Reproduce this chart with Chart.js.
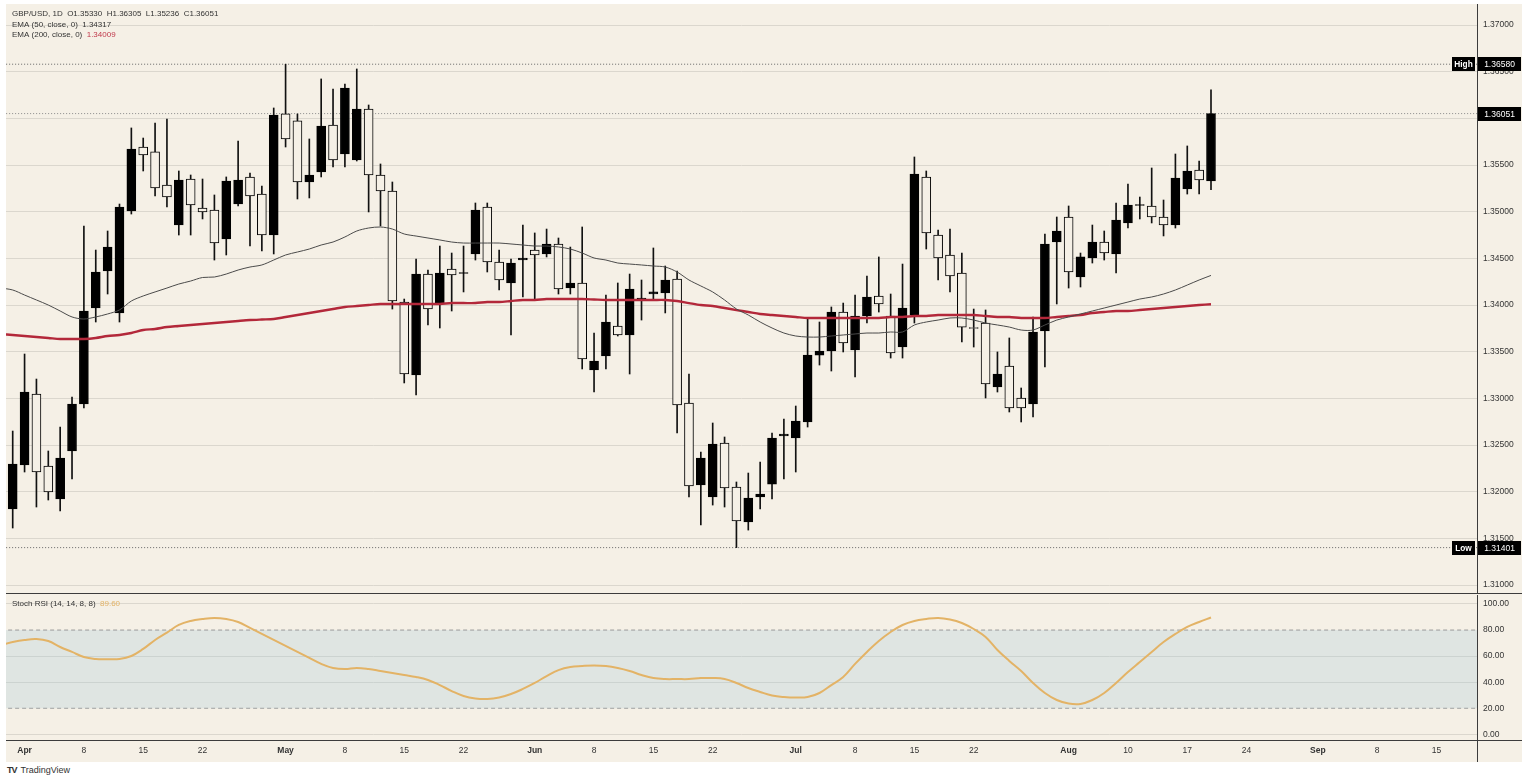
<!DOCTYPE html>
<html><head><meta charset="utf-8">
<script src="https://cdn.jsdelivr.net/npm/chart.js@4/dist/chart.umd.min.js"></script>
<style>
html,body{margin:0;padding:0;background:#ffffff;width:1528px;height:784px;overflow:hidden;}
#frame{position:absolute;left:6px;top:4px;width:1516px;height:758px;background:#f5f0e6;}
#cPrice{position:absolute;left:0;top:0;}
#cRsi{position:absolute;left:0;top:591px;}
#brand{position:absolute;left:7px;top:765px;font:9px 'Liberation Sans',Arial,sans-serif;color:#333;}
#brand b{font-weight:900;letter-spacing:-1px;margin-right:4px;}
</style></head>
<body>
<div id="frame">
  <canvas id="cPrice" width="1516" height="590"></canvas>
  <canvas id="cRsi" width="1516" height="167"></canvas>
</div>
<div id="brand"><b>TV</b>TradingView</div>
<script>
// ---------- DATA (GBP/USD daily, 31 Mar – 19 Aug) ----------
const open = [
1.31815,1.32286,1.33047,1.32275,1.31922,1.32436,1.32940,1.33968,1.34364,1.33915,
1.35007,1.35693,1.35640,1.35286,1.34857,1.35350,1.35039,1.35018,1.34707,1.35082,
1.35372,1.35189,1.34750,1.36047,1.35972,1.35318,1.35425,1.35929,1.35618,1.35554,
1.36100,1.35393,1.35222,1.34032,1.33250,1.34332,1.34011,1.34386,1.34338,1.34547,
1.35050,1.34461,1.34236,1.34482,1.34589,1.34547,1.34654,1.34182,1.34236,1.33304,
1.33454,1.33775,1.33679,1.34054,1.34118,1.34129,1.34279,1.32950,1.32072,1.31943,
1.32522,1.32050,1.31675,1.31943,1.32082,1.32597,1.32575,1.32747,1.33464,1.33507,
1.33925,1.33518,1.33882,1.34097,1.33882,1.33550,1.33893,1.35372,1.34750,1.34536,
1.34343,1.33759,1.33807,1.33122,1.33347,1.33004,1.32940,1.33722,1.34675,1.34943,
1.34300,1.34504,1.34675,1.34547,1.34879,1.35066,1.35061,1.34943,1.34857,1.35243,
1.35447,1.35330];
const high = [
1.32650,1.33475,1.33207,1.32436,1.32693,1.33015,1.34847,1.34589,1.34793,1.35082,
1.35897,1.35789,1.35950,1.35993,1.35436,1.35393,1.35350,1.35179,1.35372,1.35757,
1.35414,1.35275,1.36111,1.36580,1.36047,1.35779,1.36422,1.36314,1.36368,1.36529,
1.36143,1.35511,1.35318,1.34064,1.34493,1.34375,1.34632,1.34557,1.34632,1.35093,
1.35093,1.34589,1.34493,1.34857,1.34772,1.34814,1.34718,1.34621,1.34836,1.33700,
1.34107,1.34236,1.34332,1.34268,1.34611,1.34418,1.34364,1.33261,1.32425,1.32736,
1.32586,1.32104,1.32200,1.32318,1.32629,1.32779,1.32918,1.33850,1.33818,1.33979,
1.34021,1.34107,1.34311,1.34515,1.34118,1.34439,1.35586,1.35436,1.34804,1.34814,
1.34557,1.33957,1.33947,1.33497,1.33647,1.33111,1.33872,1.34761,1.34943,1.35061,
1.34557,1.34857,1.34793,1.35093,1.35297,1.35157,1.35468,1.35125,1.35618,1.35704,
1.35543,1.36305];
const low = [
1.31611,1.32211,1.31836,1.31911,1.31793,1.32136,1.32897,1.33818,1.34118,1.33818,
1.34975,1.35436,1.35168,1.35050,1.34750,1.34750,1.34922,1.34482,1.34536,1.35061,
1.34632,1.34579,1.34547,1.35693,1.35136,1.35147,1.35372,1.35479,1.35479,1.35543,
1.34997,1.34847,1.33957,1.33165,1.33036,1.33786,1.33754,1.33936,1.34140,1.34482,
1.34354,1.34161,1.33679,1.34086,1.34064,1.34515,1.34118,1.34118,1.33315,1.33068,
1.33315,1.33668,1.33261,1.33839,1.34064,1.33915,1.32629,1.31943,1.31643,1.31857,
1.31836,1.31401,1.31589,1.31815,1.31922,1.32136,1.32211,1.32693,1.33357,1.33293,
1.33497,1.33229,1.33807,1.33925,1.33432,1.33432,1.33807,1.34600,1.34268,1.34140,
1.33604,1.33550,1.33004,1.33068,1.32854,1.32747,1.32800,1.33336,1.34011,1.34182,
1.34193,1.34450,1.34482,1.34343,1.34825,1.34922,1.34879,1.34740,1.34825,1.35189,
1.35189,1.35236];
const close = [
1.32297,1.33068,1.32211,1.31997,1.32361,1.32940,1.33936,1.34354,1.34621,1.35050,
1.35672,1.35607,1.35254,1.35157,1.35339,1.35072,1.34997,1.34664,1.35329,1.35339,
1.35168,1.34750,1.36036,1.35779,1.35318,1.35393,1.35918,1.35554,1.36325,1.36100,
1.35393,1.35222,1.34043,1.33261,1.34332,1.33957,1.34343,1.34322,1.34348,1.35018,
1.34461,1.34268,1.34450,1.34504,1.34536,1.34654,1.34172,1.34236,1.33422,1.33400,
1.33818,1.33679,1.34172,1.34075,1.34140,1.34268,1.32929,1.32061,1.32361,1.32511,
1.32040,1.31686,1.31932,1.31975,1.32575,1.32618,1.32757,1.33464,1.33507,1.33925,
1.33593,1.33882,1.34086,1.34011,1.33486,1.33968,1.35404,1.34772,1.34504,1.34311,
1.33764,1.33748,1.33154,1.33261,1.32897,1.32897,1.33711,1.34654,1.34793,1.34354,
1.34515,1.34675,1.34557,1.34911,1.35072,1.35077,1.34943,1.34857,1.35361,1.35436,
1.35339,1.36051];
// indicator series start one bar before the first visible candle (index -1)
const ema50 = [
1.34182,1.34161,1.34107,1.34054,1.34000,1.33936,1.33872,1.33850,1.33872,1.33904,1.33947,
1.34043,1.34097,1.34140,1.34182,1.34225,1.34257,1.34295,1.34300,1.34332,1.34375,
1.34407,1.34429,1.34482,1.34536,1.34568,1.34600,1.34643,1.34675,1.34729,1.34793,
1.34825,1.34836,1.34814,1.34761,1.34739,1.34718,1.34697,1.34675,1.34664,1.34664,
1.34664,1.34664,1.34654,1.34643,1.34632,1.34632,1.34622,1.34600,1.34557,1.34504,
1.34482,1.34450,1.34439,1.34429,1.34418,1.34407,1.34354,1.34268,1.34204,1.34140,
1.34054,1.33958,1.33893,1.33818,1.33754,1.33700,1.33668,1.33657,1.33657,1.33668,
1.33679,1.33690,1.33700,1.33700,1.33711,1.33711,1.33786,1.33818,1.33839,1.33861,
1.33861,1.33839,1.33807,1.33786,1.33764,1.33732,1.33732,1.33786,1.33839,1.33872,
1.33904,1.33936,1.33968,1.34000,1.34032,1.34064,1.34086,1.34118,1.34161,1.34214,
1.34268,1.34317];
const ema200 = [
1.33689,1.33679,1.33668,1.33657,1.33647,1.33636,1.33636,1.33636,1.33647,1.33668,1.33679,
1.33700,1.33732,1.33743,1.33764,1.33775,1.33786,1.33797,1.33807,1.33818,1.33829,
1.33839,1.33845,1.33850,1.33872,1.33893,1.33914,1.33936,1.33957,1.33979,1.33989,
1.34000,1.34011,1.34011,1.34011,1.34011,1.34011,1.34011,1.34021,1.34021,1.34021,
1.34032,1.34032,1.34043,1.34054,1.34054,1.34064,1.34064,1.34064,1.34064,1.34059,
1.34054,1.34054,1.34054,1.34054,1.34054,1.34054,1.34043,1.34021,1.34000,1.33989,
1.33968,1.33946,1.33925,1.33904,1.33893,1.33882,1.33872,1.33861,1.33861,1.33861,
1.33861,1.33861,1.33861,1.33861,1.33872,1.33872,1.33882,1.33882,1.33893,1.33893,
1.33893,1.33893,1.33882,1.33872,1.33872,1.33861,1.33861,1.33861,1.33872,1.33882,
1.33893,1.33914,1.33925,1.33936,1.33936,1.33946,1.33957,1.33968,1.33979,1.33989,
1.34000,1.34009];
const stochRsi = [
68.5,70.8,72.4,73.1,71.6,67.0,63.2,59.3,57.8,57.6,57.8,
60.1,65.5,72.4,78.0,83.9,87.0,88.5,89.3,88.5,86.2,
81.6,77.0,72.4,67.8,63.2,58.6,54.0,50.9,50.1,50.9,
50.1,48.6,47.0,45.5,44.0,41.7,37.8,33.2,29.4,27.5,
27.1,28.2,30.9,34.8,39.4,44.7,49.3,51.7,52.4,52.8,
52.4,50.9,48.6,45.5,43.2,42.4,42.4,42.4,43.2,43.2,
42.4,39.4,35.5,32.5,29.8,28.6,28.2,28.6,31.7,37.8,
44.0,54.0,63.2,71.6,78.5,83.9,87.0,88.5,89.3,88.1,
85.4,80.8,74.7,64.7,56.3,48.6,39.4,31.7,26.3,23.6,
23.3,26.3,31.7,39.4,47.8,55.5,63.2,70.8,77.0,82.4,
86.2,89.6];
const indicatorStart = -1;
const tickIndex = [1,6,11,16,23,28,33,38,44,49,54,59,66,71,76,81,89,94,99,104,110,115,120];
const tickText  = ['Apr','8','15','22','May','8','15','22','Jun','8','15','22','Jul','8','15','22','Aug','10','17','24','Sep','8','15'];
const priceTicks = [1.31,1.315,1.32,1.325,1.33,1.335,1.34,1.345,1.35,1.355,1.36,1.365,1.37];
const rsiTicks = [0,20,40,60,80,100];
const periodHigh = 1.36580, periodLow = 1.31401;
const lastClose = close[close.length-1];
const legendHeader = {symbol:'GBP/USD, 1D', o:'1.35330', h:'1.36305', l:'1.35236', c:'1.36051'};
const ema50Last = '1.34317', ema200Last = '1.34009', stochLast = '89.60';

// ---------- RENDER ----------
Chart.defaults.font.family = "'Liberation Sans', Arial, sans-serif";
Chart.defaults.color = '#333';
const X_MIN = -0.565, X_MAX = 123.42;
const CREAM = '#f5f0e6', GRID = '#dbd7ce', AXIS = '#3c3c3c';
const RED = '#b3283a', GRAY = '#4a4a4a', ORANGE = '#e3b366';
const idx = open.map((_, i) => i);
const toPts = arr => arr.map((v, k) => ({x: k + indicatorStart, y: v}));
const hLine = v => [{x: X_MIN - 1, y: v}, {x: X_MAX + 1, y: v}];
const noPadV = s => { s.width = 45; s.paddingTop = 0; s.paddingBottom = 0; };

function box(ctx, x, yc, w, h, text, font) {
  ctx.fillStyle = '#000';
  ctx.fillRect(x, Math.round(yc - h / 2), w, h);
  ctx.fillStyle = '#fff';
  ctx.font = font;
  ctx.textAlign = 'center';
  ctx.textBaseline = 'middle';
  ctx.fillText(text, x + w / 2, Math.round(yc) + 0.5);
}
function segs(ctx, x, y, parts) {
  ctx.textAlign = 'left'; ctx.textBaseline = 'middle';
  for (const [t, col] of parts) {
    ctx.fillStyle = col; ctx.fillText(t, x, y); x += ctx.measureText(t).width;
  }
}

const priceDeco = {
  id: 'priceDeco',
  afterDraw(chart) {
    const {ctx, chartArea: a, scales: {y}} = chart;
    ctx.save();
    ctx.strokeStyle = AXIS; ctx.lineWidth = 1;
    ctx.beginPath(); ctx.moveTo(a.right + 0.5, 0); ctx.lineTo(a.right + 0.5, chart.height); ctx.stroke();
    ctx.beginPath(); ctx.moveTo(0, chart.height - 0.5); ctx.lineTo(chart.width, chart.height - 0.5); ctx.stroke();
    const f = "bold 8.3px 'Liberation Sans', Arial, sans-serif";
    const fv = "8.5px 'Liberation Sans', Arial, sans-serif";
    box(ctx, a.right + 1, y.getPixelForValue(periodHigh), 43, 14, periodHigh.toFixed(5), fv);
    box(ctx, a.right - 25, y.getPixelForValue(periodHigh), 23, 14, 'High', f);
    box(ctx, a.right + 1, y.getPixelForValue(lastClose), 43, 14, lastClose.toFixed(5), fv);
    box(ctx, a.right + 1, y.getPixelForValue(periodLow), 43, 14, periodLow.toFixed(5), fv);
    box(ctx, a.right - 25, y.getPixelForValue(periodLow), 23, 14, 'Low', f);
    ctx.font = "8px 'Liberation Sans', Arial, sans-serif";
    const h = legendHeader;
    segs(ctx, 6, 10, [[h.symbol + '  O' + h.o + '  H' + h.h + '  L' + h.l + '  C' + h.c, '#333']]);
    segs(ctx, 6, 21, [['EMA (50, close, 0)  ', '#333'], [ema50Last, '#333']]);
    segs(ctx, 6, 31, [['EMA (200, close, 0)  ', '#333'], [ema200Last, '#c0394b']]);
    ctx.restore();
  }
};
const rsiDeco = {
  id: 'rsiDeco',
  afterDraw(chart) {
    const {ctx, chartArea: a} = chart;
    ctx.save();
    ctx.strokeStyle = AXIS; ctx.lineWidth = 1;
    ctx.beginPath(); ctx.moveTo(a.right + 0.5, 0); ctx.lineTo(a.right + 0.5, chart.height); ctx.stroke();
    ctx.beginPath(); ctx.moveTo(0, a.bottom + 0.5); ctx.lineTo(chart.width, a.bottom + 0.5); ctx.stroke();
    ctx.font = "8px 'Liberation Sans', Arial, sans-serif";
    segs(ctx, 6, 9, [['Stoch RSI (14, 14, 8, 8)  ', '#333'], [stochLast, ORANGE]]);
    ctx.restore();
  }
};

new Chart(document.getElementById('cPrice'), {
  type: 'bar',
  data: {datasets: [
    {type: 'line', data: toPts(ema50), borderColor: GRAY, borderWidth: 1, pointRadius: 0, tension: 0.3, order: 0},
    {type: 'line', data: toPts(ema200), borderColor: RED, borderWidth: 2.4, pointRadius: 0, tension: 0.3, order: 0},
    {type: 'bar', data: idx.map(i => ({x: i, y: [open[i], close[i]]})),
      backgroundColor: idx.map(i => close[i] >= open[i] ? '#000' : CREAM),
      borderColor: '#000', borderWidth: 1, borderSkipped: false, barThickness: 9, minBarLength: 1, grouped: false, order: 1},
    {type: 'bar', data: idx.map(i => ({x: i, y: [low[i], high[i]]})),
      backgroundColor: '#111', barThickness: 1, grouped: false, order: 2},
    {type: 'line', data: hLine(periodHigh), borderColor: '#666', borderWidth: 1, borderDash: [1, 2], pointRadius: 0, order: 3},
    {type: 'line', data: hLine(periodLow), borderColor: '#666', borderWidth: 1, borderDash: [1, 2], pointRadius: 0, order: 3},
    {type: 'line', data: hLine(lastClose), borderColor: '#8a8a8a', borderWidth: 1, borderDash: [1, 2], pointRadius: 0, order: 3}
  ]},
  options: {
    responsive: false, animation: false, events: [],
    layout: {padding: 0},
    plugins: {legend: {display: false}, tooltip: {enabled: false}},
    scales: {
      x: {type: 'linear', min: X_MIN, max: X_MAX, offset: false, display: false},
      y: {type: 'linear', position: 'right', min: 1.30904, max: 1.37225,
        afterFit: noPadV,
        afterBuildTicks: s => { s.ticks = priceTicks.map(v => ({value: v})); },
        grid: {color: GRID, drawTicks: false},
        border: {display: false},
        ticks: {padding: 6, font: {size: 8.5}, color: '#333', callback: v => Number(v).toFixed(5)}
      }
    }
  },
  plugins: [priceDeco]
});

new Chart(document.getElementById('cRsi'), {
  type: 'line',
  data: {datasets: [
    {data: toPts(stochRsi), borderColor: ORANGE, borderWidth: 2, pointRadius: 0, tension: 0.4, order: 0},
    {data: hLine(80), borderColor: '#9a9a9a', borderWidth: 1, borderDash: [4, 3], pointRadius: 0,
      fill: {value: 20}, backgroundColor: 'rgba(165,198,215,0.27)', order: 1},
    {data: hLine(20), borderColor: '#9a9a9a', borderWidth: 1, borderDash: [4, 3], pointRadius: 0, order: 1}
  ]},
  options: {
    responsive: false, animation: false, events: [],
    layout: {padding: 0},
    plugins: {legend: {display: false}, tooltip: {enabled: false}},
    scales: {
      x: {type: 'linear', min: X_MIN, max: X_MAX, offset: false,
        afterFit: s => { s.height = 22; s.paddingLeft = 0; s.paddingRight = 0; },
        afterBuildTicks: s => { s.ticks = tickIndex.map(v => ({value: v})); },
        grid: {display: false, drawTicks: false},
        border: {display: false},
        ticks: {autoSkip: false, maxRotation: 0, padding: 6, color: '#333',
          font: c => ({size: 8.5, weight: /^[A-Za-z]/.test(tickText[c.index] || '') ? 'bold' : 'normal'}),
          callback: (v, i) => tickText[i]}
      },
      y: {type: 'linear', position: 'right', min: -4.37, max: 106.9,
        afterFit: noPadV,
        afterBuildTicks: s => { s.ticks = rsiTicks.map(v => ({value: v})); },
        grid: {drawTicks: false, color: c => (c.tick && (c.tick.value === 80 || c.tick.value === 20)) ? 'rgba(0,0,0,0)' : GRID},
        border: {display: false},
        ticks: {padding: 6, font: {size: 8.5}, color: '#333', callback: v => Number(v).toFixed(2)}
      }
    }
  },
  plugins: [rsiDeco]
});
</script>
</body></html>
